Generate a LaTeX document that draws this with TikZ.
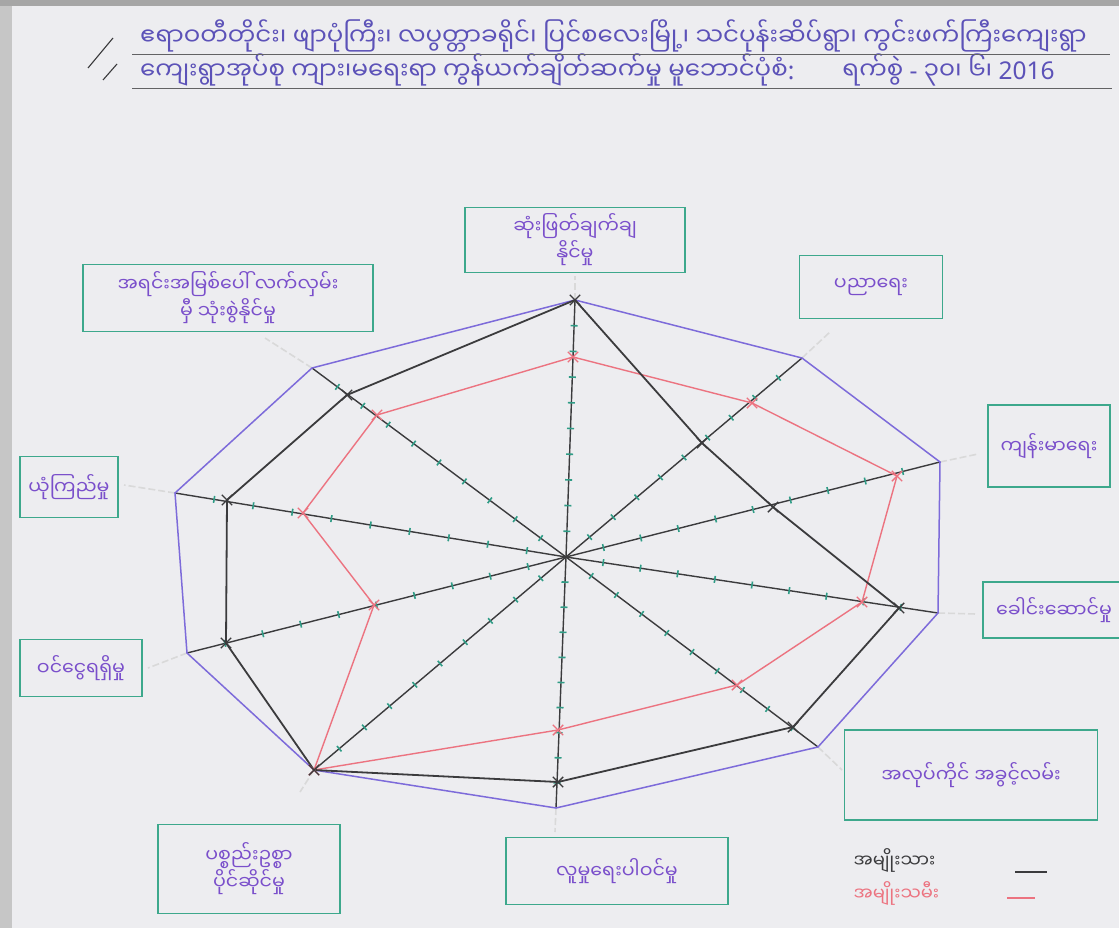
\documentclass[tikz,border=0pt]{standalone}
\usepackage{fontspec}
\newfontfamily\mmfont[Script=Myanmar]{Noto Sans Myanmar UI}
\newfontfamily\latinfont{Noto Sans}
\usepackage{tikz}
\usetikzlibrary{shapes.misc}
\usetikzlibrary{calc}
\definecolor{paper}{HTML}{EDEDF0}
\definecolor{boxgreen}{HTML}{3DA88C}
\definecolor{inkpurple}{HTML}{7A4FCB}
\definecolor{titleink}{HTML}{5C52B8}
\definecolor{rimviolet}{HTML}{7D6BDA}
\definecolor{menblack}{HTML}{3B3B3D}
\definecolor{womenred}{HTML}{EC7380}
\definecolor{tickteal}{HTML}{2F9C86}
\tikzset{
  % boxes round the axis names
  labelbox/.style={draw=boxgreen, line width=1.8pt, rectangle, text=inkpurple,
    align=center, inner sep=2pt, font=\mmfont\fontsize{19}{27}\selectfont},
  spoke/.style={draw=menblack, line width=1.4pt},
  tickmark/.style={rectangle, fill=tickteal, sloped, inner sep=0pt,
    minimum width=1.6pt, minimum height=7pt},
  xmark/.style={cross out, draw=#1, line width=1.4pt, minimum size=9pt, inner sep=0pt},
  whiteout/.style={draw=gray!30, line width=1.6pt, dash pattern=on 7pt off 3pt},
  titletext/.style={anchor=south west, text=titleink, inner sep=0pt,
    font=\mmfont\fontsize{24.5}{27}\selectfont}
}

\begin{document}
\begin{tikzpicture}[x=1pt, y=-1pt]
    % paper
    \fill[paper] (0,0) rectangle (1119,928);
    \fill[gray!45] (0,0) rectangle (12,928);
    \fill[gray!70] (0,0) rectangle (1119,6);
    \useasboundingbox (0,0) rectangle (1119,928);

    % title
    \draw[menblack, line width=1.1pt] (88,68) -- (113,38);
    \draw[menblack, line width=1.1pt] (103,80) -- (117,64);
    \node[titletext] (title1) at (140,52) {ဧရာဝတီတိုင်း၊ ဖျာပုံကြီး၊ လပွတ္တာခရိုင်၊ ပြင်စလေးမြို့၊ သင်ပုန်းဆိပ်ရွာ၊ ကွင်းဖက်ကြီးကျေးရွာ};
    \node[titletext] (title2) at (140,86) {ကျေးရွာအုပ်စု ကျား၊မရေးရာ ကွန်ယက်ချိတ်ဆက်မှု မူဘောင်ပုံစံ{\latinfont:}\hspace{48pt}ရက်စွဲ {\latinfont -} ၃၀၊ ၆၊ {\latinfont 2016}};
    \draw[menblack!80, line width=1pt] (132,55) -- (1110,55);
    \draw[menblack!80, line width=1pt] (132,89) -- (1112,89);

    % centre and axis ends
    \coordinate (C) at (566,557);
    \coordinate (a1) at (575,300);
    \coordinate (a2) at (802,358);
    \coordinate (a3) at (940,462);
    \coordinate (a4) at (938,613);
    \coordinate (a5) at (818,747);
    \coordinate (a6) at (556,808);
    \coordinate (a7) at (314,770);
    \coordinate (a8) at (187,653);
    \coordinate (a9) at (175,493);
    \coordinate (a10) at (312,368);

    % men
    \coordinate (m1) at (575,300);
    \coordinate (m2) at (702,443);
    \coordinate (m3) at (773,507);
    \coordinate (m4) at (899,608);
    \coordinate (m5) at (793,727);
    \coordinate (m6) at (558,782);
    \coordinate (m7) at (314,770);
    \coordinate (m8) at (226,643);
    \coordinate (m9) at (227,500);
    \coordinate (m10) at (347,395);

    % women
    \coordinate (w1) at (573,357);
    \coordinate (w2) at (752,403);
    \coordinate (w3) at (897,476);
    \coordinate (w4) at (862,602);
    \coordinate (w5) at (737,685);
    \coordinate (w6) at (558,730);
    \coordinate (w7) at (314,770);
    \coordinate (w8) at (374,605);
    \coordinate (w9) at (303,513);
    \coordinate (w10) at (377,415);

    % axis names
    \node[labelbox, minimum width=220pt, minimum height=65pt] (decide) at (575,240) {ဆုံးဖြတ်ချက်ချ\\နိုင်မှု};
    \node[labelbox, minimum width=143pt, minimum height=63pt] (school) at (871,287) {ပညာရေး};
    \node[labelbox, minimum width=122pt, minimum height=82pt] (health) at (1049,446) {ကျန်းမာရေး};
    \node[labelbox, minimum width=142pt, minimum height=56pt] (lead) at (1054,610) {ခေါင်းဆောင်မှု};
    \node[labelbox, minimum width=253pt, minimum height=90pt] (job) at (971,775) {အလုပ်ကိုင် အခွင့်လမ်း};
    \node[labelbox, minimum width=222pt, minimum height=67pt] (social) at (617,871) {လူမှုရေးပါဝင်မှု};
    \node[labelbox, minimum width=182pt, minimum height=89pt] (assets) at (249,869) {ပစ္စည်းဥစ္စာ\\ပိုင်ဆိုင်မှု};
    \node[labelbox, minimum width=122pt, minimum height=57pt] (income) at (81,668) {ဝင်ငွေရရှိမှု};
    \node[labelbox, minimum width=98pt, minimum height=61pt] (trust) at (69,487) {ယုံကြည်မှု};
    \node[labelbox, minimum width=290pt, minimum height=67pt] (access) at (228,298) {အရင်းအမြစ်ပေါ် လက်လှမ်း\\မှီ သုံးစွဲနိုင်မှု};

    % white-out ends of the axes
    \coordinate (e1) at (575,276);
    \coordinate (e2) at (830,332);
    \coordinate (e3) at (978,454);
    \coordinate (e4) at (976,614);
    \coordinate (e5) at (842,770);
    \coordinate (e6) at (555,832);
    \coordinate (e7) at (300,792);
    \coordinate (e8) at (148,668);
    \coordinate (e9) at (124,485);
    \coordinate (e10) at (265,338);
    \foreach \i in {1,...,10}
        \draw[whiteout] (a\i) -- (e\i);

    % spokes with ticks
    \foreach \i in {1,...,10}
        \draw[spoke] (C) -- (a\i)
            \foreach \t in {0.1,0.2,0.3,0.4,0.5,0.6,0.7,0.8,0.9} {node[tickmark, pos=\t] {}};

    % outer rim
    \draw[rimviolet, line width=1.5pt] (a1) -- (a2) -- (a3) -- (a4) -- (a5) -- (a6) -- (a7) -- (a8) -- (a9) -- (a10) -- cycle;
    % women and men
    \draw[womenred, line width=1.4pt] (w1) -- (w2) -- (w3) -- (w4) -- (w5) -- (w6) -- (w7) -- (w8) -- (w9) -- (w10) -- cycle;
    \draw[menblack, line width=1.8pt] (m1) -- (m2) -- (m3) -- (m4) -- (m5) -- (m6) -- (m7) -- (m8) -- (m9) -- (m10) -- cycle;
    \foreach \i in {1,...,10} {
        \node[xmark=womenred] at (w\i) {};
        \node[xmark=menblack] at (m\i) {};
    }

    % legend
    \node[anchor=west, text=menblack, font=\mmfont\fontsize{18}{22}\selectfont] (menkey) at (850,860) {အမျိုးသား};
    \node[anchor=west, text=womenred, font=\mmfont\fontsize{18}{22}\selectfont] (womenkey) at (850,893) {အမျိုးသမီး};
    \coordinate (menline) at (1015,872);
    \coordinate (womenline) at (1007,898);
    \draw[menblack, line width=1.8pt] (menline) -- ++(32,0);
    \draw[womenred, line width=1.6pt] (womenline) -- ++(28,0);
\end{tikzpicture}
\end{document}
